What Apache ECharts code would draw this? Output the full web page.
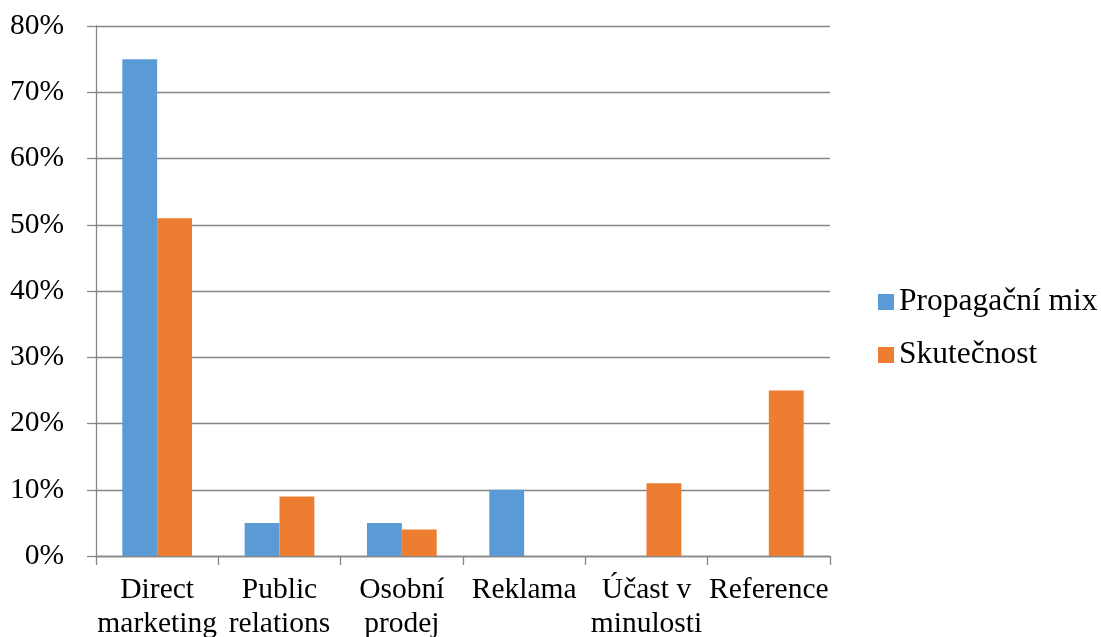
<!DOCTYPE html>
<html>
<head>
<meta charset="utf-8">
<script src="https://cdn.jsdelivr.net/npm/echarts@6/dist/echarts.min.js"></script>
<style>
  html, body { margin: 0; padding: 0; background: #fff; }
  #main { width: 1101px; height: 637px; }
</style>
</head>
<body>
<div id="main"></div>
<script>
const categories = ["Direct\nmarketing", "Public\nrelations", "Osobní\nprodej", "Reklama", "Účast v\nminulosti", "Reference"];
const mixValues = [75, 5, 5, 10, 0, 0];
const realValues = [51, 9, 4, 0, 11, 25];
const yTicks = [0, 10, 20, 30, 40, 50, 60, 70, 80];

const font = "Liberation Serif";
const gray = "#868686";

const chart = echarts.init(document.getElementById("main"));
chart.setOption({
  animation: false,
  textStyle: { fontFamily: font },
  grid: { left: 96, right: 271, top: 26, bottom: 81, containLabel: false, outerBoundsMode: "none" },
  legend: {
    orient: "vertical",
    left: 873,
    top: 281,
    itemWidth: 16,
    itemHeight: 16,
    itemGap: 21,
    icon: "rect",
    textStyle: { fontFamily: font, fontSize: 31.5, color: "#000" },
    data: ["Propagační mix", "Skutečnost"]
  },
  xAxis: {
    type: "category",
    data: categories,
    axisLine: { lineStyle: { color: gray, width: 1.3 } },
    axisTick: { show: true, length: 9, lineStyle: { color: gray, width: 1.3 } },
    axisLabel: {
      fontFamily: font, fontSize: 29.5, color: "#000",
      lineHeight: 34, margin: 17, interval: 0
    }
  },
  yAxis: {
    type: "value",
    min: yTicks[0],
    max: yTicks[yTicks.length - 1],
    interval: 10,
    axisLine: { show: true, lineStyle: { color: gray, width: 1.3 } },
    axisTick: { show: true, length: 9, lineStyle: { color: gray, width: 1.3 } },
    splitLine: { lineStyle: { color: gray, width: 1.3 } },
    axisLabel: {
      fontFamily: font, fontSize: 29.5, color: "#000", margin: 32,
      formatter: v => v + "%"
    }
  },
  series: [
    {
      name: "Propagační mix",
      type: "bar",
      data: mixValues,
      barGap: "0%",
      barCategoryGap: "43%",
      itemStyle: { color: "#5B9BD5" }
    },
    {
      name: "Skutečnost",
      type: "bar",
      data: realValues,
      itemStyle: { color: "#ED7D31" }
    }
  ]
});
</script>
</body>
</html>
